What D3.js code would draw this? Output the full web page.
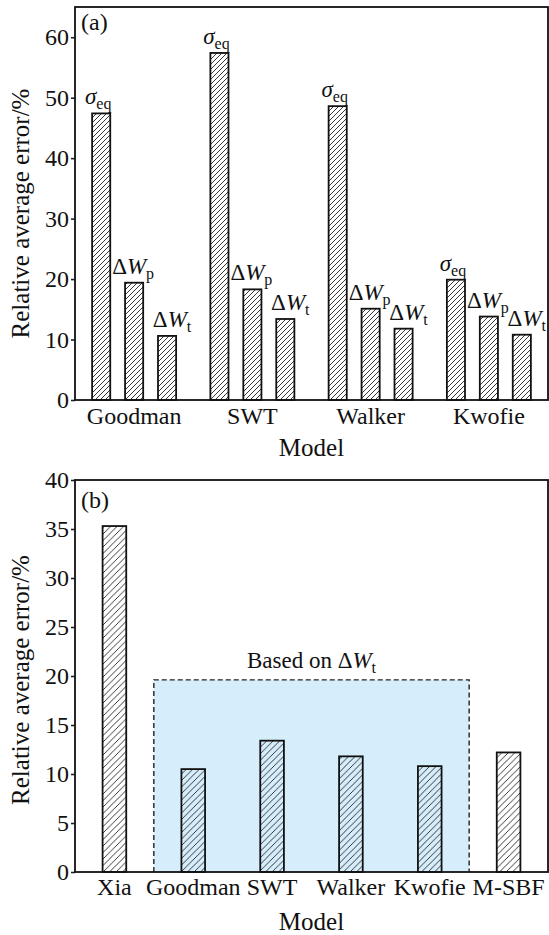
<!DOCTYPE html>
<html>
<head>
<meta charset="utf-8">
<script src="https://cdn.jsdelivr.net/npm/d3@7"></script>
<style>
  body { margin: 0; background: #fff; }
</style>
</head>
<body>
<div class="chart"></div>
<script>
// data
const groupsA = ["Goodman", "SWT", "Walker", "Kwofie"];
const seriesA = ["sigma", "dWp", "dWt"];
const sigmaEq = [47.4, 57.4, 48.6, 19.9];
const deltaWp = [19.4, 18.3, 15.1, 13.8];
const deltaWt = [10.6, 13.4, 11.8, 10.8];
const ticksA = [0, 10, 20, 30, 40, 50, 60];

const modelsB = ["Xia", "Goodman", "SWT", "Walker", "Kwofie", "M-SBF"];
const errorsB = [35.3, 10.5, 13.4, 11.8, 10.8, 12.2];
const shadedModels = ["Goodman", "SWT", "Walker", "Kwofie"];
const shadedTop = 19.6;
const ticksB = [0, 5, 10, 15, 20, 25, 30, 35, 40];

const W = 549, H = 935;
const left = 75, right = 548;
const fs = 24;
const serif = "Liberation Serif";

const svg = d3.select('.chart').append('svg')
    .attr("width", W)
    .attr("height", H)
    .attr("font-family", serif);

const defs = svg.append("defs");
function hatch(id, bg, size) {
    const p = defs.append("pattern")
        .attr("id", id)
        .attr("patternUnits", "userSpaceOnUse")
        .attr("width", size).attr("height", size)
    if (bg) p.append("rect").attr("width", size).attr("height", size).attr("fill", bg);
    p.append("path")
        .attr("d", `M0,${size} L${size},0 M${-size/2},${size/2} L${size/2},${-size/2} M${size/2},${size*1.5} L${size*1.5},${size/2}`)
        .attr("stroke", "#222").attr("stroke-width", 0.9)
}
hatch("hatchA", "#fff", 5);
hatch("hatchB", "#fff", 6.5);
hatch("hatchBlue", null, 6.5);

// style helper for axes
function styleAxis(g) {
    g.attr("font-family", serif).attr("font-size", fs);
    g.selectAll(".domain").remove();
    g.selectAll("line").attr("stroke", "#222").attr("stroke-width", 1.6);
    g.selectAll("text").attr("fill", "#111");
}

// ---------- panel (a) ----------
const topA = 7, botA = 400;

const xA = d3.scaleBand()
    .domain(groupsA)
    .range([left, right])

const xInner = d3.scaleBand()
    .domain(seriesA)
    .range([0, xA.bandwidth()])
    .paddingInner(0.45)
    .paddingOuter(0.52)

const yA = d3.scaleLinear()
    .domain([0, 65])
    .range([botA, topA])

const gA = svg.append("g");

gA.append("g")
    .attr("transform", "translate(" + left + ",0)")
    .call(d3.axisLeft(yA).tickValues(ticksA).tickSize(4).tickPadding(2))
    .call(styleAxis)

gA.append("g")
    .attr("transform", "translate(0," + botA + ")")
    .call(d3.axisBottom(xA).tickSize(0).tickPadding(7))
    .call(styleAxis)

let rowsA = [];
groupsA.forEach((g, i) => {
    rowsA.push({group: g, key: "sigma", value: sigmaEq[i]});
    rowsA.push({group: g, key: "dWp", value: deltaWp[i]});
    rowsA.push({group: g, key: "dWt", value: deltaWt[i]});
});

gA.selectAll(".barA")
    .data(rowsA)
    .enter().append("rect")
    .attr("class", "barA")
    .attr("x", d => xA(d.group) + xInner(d.key))
    .attr("y", d => yA(d.value))
    .attr("width", xInner.bandwidth())
    .attr("height", d => botA - yA(d.value))
    .attr("fill", "url(#hatchA)")
    .attr("stroke", "#111")
    .attr("stroke-width", 1.8)

// label nudges so neighbouring labels do not collide
const nudge = {sigma: -3, dWp: -1, dWt: 5};

const labs = gA.selectAll(".labA")
    .data(rowsA)
    .enter().append("text")
    .attr("class", "labA")
    .attr("x", d => xA(d.group) + xInner(d.key) + xInner.bandwidth() / 2 + nudge[d.key])
    .attr("y", d => yA(d.value) - 9)
    .attr("text-anchor", "middle")
    .attr("font-size", 23)

labs.each(function(d) {
    const t = d3.select(this);
    if (d.key === "sigma") {
        t.append("tspan").attr("font-style", "italic").text("σ");
        t.append("tspan").attr("dy", 5).attr("font-size", 16).text("eq");
    } else {
        t.append("tspan").text("Δ");
        t.append("tspan").attr("font-style", "italic").text("W");
        t.append("tspan").attr("dy", 5).attr("font-size", 16).text(d.key === "dWp" ? "p" : "t");
    }
});

// frame
gA.append("rect")
    .attr("x", left).attr("y", topA)
    .attr("width", right - left).attr("height", botA - topA)
    .attr("fill", "none").attr("stroke", "#111").attr("stroke-width", 1.8)

gA.append("text")
    .attr("x", 81).attr("y", 30)
    .attr("font-size", fs)
    .text("(a)")

gA.append("text")
    .attr("x", (left + right) / 2).attr("y", 456)
    .attr("text-anchor", "middle")
    .attr("font-size", 25)
    .text("Model")

gA.append("text")
    .attr("transform", "translate(29," + ((topA + botA) / 2 + 10) + ") rotate(-90)")
    .attr("text-anchor", "middle")
    .attr("font-size", 25)
    .text("Relative average error/%")

// ---------- panel (b) ----------
const topB = 480, botB = 872;

const xB = d3.scaleBand()
    .domain(modelsB)
    .range([left, right])
    .paddingInner(0.7)
    .paddingOuter(0.35)

const yB = d3.scaleLinear()
    .domain([0, 40])
    .range([botB, topB])

const gB = svg.append("g");

// shaded box spans the band slots of the shaded models
const stepB = xB.step();
const boxX0 = xB(shadedModels[0]) - (stepB - xB.bandwidth()) / 2;
const boxX1 = xB(shadedModels[shadedModels.length - 1]) + xB.bandwidth() + (stepB - xB.bandwidth()) / 2;

gB.append("rect")
    .attr("x", boxX0).attr("y", yB(shadedTop))
    .attr("width", boxX1 - boxX0).attr("height", botB - yB(shadedTop))
    .attr("fill", "#d6eefb")

gB.append("path")
    .attr("d", `M${boxX0},${botB} V${yB(shadedTop)} H${boxX1} V${botB}`)
    .attr("fill", "none")
    .attr("stroke", "#222")
    .attr("stroke-width", 1.4)
    .attr("stroke-dasharray", "5,3")

const lab = gB.append("text")
    .attr("x", (boxX0 + boxX1) / 2).attr("y", yB(shadedTop) - 12)
    .attr("text-anchor", "middle")
    .attr("font-size", 23)
lab.append("tspan").text("Based on Δ");
lab.append("tspan").attr("font-style", "italic").text("W");
lab.append("tspan").attr("dy", 5).attr("font-size", 16).text("t");

gB.append("g")
    .attr("transform", "translate(" + left + ",0)")
    .call(d3.axisLeft(yB).tickValues(ticksB).tickSize(4).tickPadding(2))
    .call(styleAxis)

gB.append("g")
    .attr("transform", "translate(0," + botB + ")")
    .call(d3.axisBottom(xB).tickSize(0).tickPadding(6))
    .call(styleAxis)

gB.selectAll(".barB")
    .data(modelsB)
    .enter().append("rect")
    .attr("class", "barB")
    .attr("x", d => xB(d))
    .attr("y", (d, i) => yB(errorsB[i]))
    .attr("width", xB.bandwidth())
    .attr("height", (d, i) => botB - yB(errorsB[i]))
    .attr("fill", d => shadedModels.includes(d) ? "url(#hatchBlue)" : "url(#hatchB)")
    .attr("stroke", "#111")
    .attr("stroke-width", 1.8)

gB.append("rect")
    .attr("x", left).attr("y", topB)
    .attr("width", right - left).attr("height", botB - topB)
    .attr("fill", "none").attr("stroke", "#111").attr("stroke-width", 1.8)

gB.append("text")
    .attr("x", 81).attr("y", 508)
    .attr("font-size", fs)
    .text("(b)")

gB.append("text")
    .attr("x", (left + right) / 2).attr("y", 930)
    .attr("text-anchor", "middle")
    .attr("font-size", 25)
    .text("Model")

gB.append("text")
    .attr("transform", "translate(29," + ((topB + botB) / 2 + 4) + ") rotate(-90)")
    .attr("text-anchor", "middle")
    .attr("font-size", 25)
    .text("Relative average error/%")

svg.selectAll("text").attr("fill", "#111");
</script>
</body>
</html>
